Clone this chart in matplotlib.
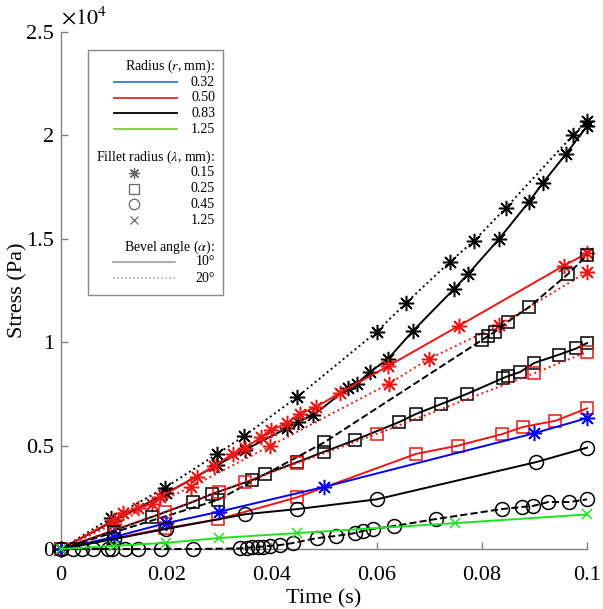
import matplotlib
matplotlib.use('Agg')
import matplotlib.pyplot as plt
from matplotlib.lines import Line2D
from matplotlib.patches import Rectangle
from matplotlib.ticker import FuncFormatter

plt.rcParams['font.family'] = ['Liberation Serif', 'DejaVu Serif']
plt.rcParams['mathtext.fontset'] = 'stix'

# ---------------- data (stress in units of 1e4 Pa) ----------------
# r = 0.83, lambda = 0.15, 20 deg (dotted)
t_k_star_20 = [0, 0.0095, 0.0197, 0.0297, 0.0348, 0.0449, 0.060, 0.0656, 0.074, 0.0785, 0.0846, 0.0973, 0.1]
s_k_star_20 = [0, 0.15, 0.295, 0.46, 0.546, 0.735, 1.05, 1.19, 1.39, 1.49, 1.65, 2.0, 2.07]
# r = 0.83, lambda = 0.15, 10 deg (solid)
t_k_star_10 = [0, 0.01, 0.02, 0.0297, 0.035, 0.043, 0.045, 0.048, 0.0546, 0.0563, 0.0587, 0.0622,
               0.0669, 0.0747, 0.0774, 0.0833, 0.089, 0.0916, 0.096, 0.1]
s_k_star_10 = [0, 0.135, 0.27, 0.406, 0.48, 0.585, 0.614, 0.648, 0.78, 0.80, 0.855, 0.92,
               1.054, 1.257, 1.33, 1.50, 1.68, 1.77, 1.91, 2.045]
# r = 0.50, lambda = 0.15, 10 deg (solid)
t_r_star_10 = [0, 0.01, 0.0118, 0.0146, 0.0173, 0.0188, 0.0258, 0.029, 0.0327, 0.035, 0.038, 0.040,
               0.043, 0.0454, 0.0485, 0.053, 0.0622, 0.0757, 0.0956, 0.1]
s_r_star_10 = [0, 0.14, 0.174, 0.198, 0.217, 0.25, 0.35, 0.40, 0.46, 0.49, 0.54, 0.575,
               0.609, 0.653, 0.687, 0.754, 0.885, 1.08, 1.37, 1.43]
# r = 0.50, lambda = 0.15, 20 deg (dotted)
t_r_star_20 = [0, 0.01, 0.0247, 0.0397, 0.0624, 0.070, 0.0833, 0.1]
s_r_star_20 = [0, 0.12, 0.30, 0.497, 0.80, 0.92, 1.083, 1.34]
# r = 0.83, lambda = 0.25, dashed
t_k_sq_d = [0, 0.01, 0.0298, 0.050, 0.080, 0.0812, 0.0825, 0.085, 0.089, 0.0964, 0.1]
s_k_sq_d = [0, 0.08, 0.237, 0.515, 1.01, 1.03, 1.05, 1.10, 1.17, 1.33, 1.42]
# r = 0.83, lambda = 0.25, 10 deg (solid)
t_k_sq_10 = [0, 0.0173, 0.025, 0.0287, 0.0363, 0.0388, 0.0449, 0.050, 0.0559, 0.0643, 0.0675, 0.0722,
             0.0772, 0.084, 0.085, 0.0873, 0.090, 0.0947, 0.098, 0.1]
s_k_sq_10 = [0, 0.155, 0.227, 0.266, 0.333, 0.362, 0.42, 0.47, 0.527, 0.614, 0.653, 0.70,
             0.75, 0.826, 0.836, 0.856, 0.90, 0.94, 0.97, 0.996]
# r = 0.50, lambda = 0.25, 20 deg (dotted)
t_r_sq_20 = [0, 0.0198, 0.030, 0.035, 0.0449, 0.060, 0.090, 0.1]
s_r_sq_20 = [0, 0.18, 0.277, 0.325, 0.415, 0.556, 0.85, 0.953]
# r = 0.50, lambda = 0.25, 10 deg (solid)
t_r_sq_10 = [0, 0.0198, 0.0298, 0.0449, 0.0675, 0.0755, 0.0838, 0.0878, 0.094, 0.1]
s_r_sq_10 = [0, 0.10, 0.143, 0.25, 0.46, 0.50, 0.555, 0.59, 0.62, 0.68]
# r = 0.32, lambda = 0.15, 10 deg (solid)
t_b_star_10 = [0, 0.01, 0.02, 0.03, 0.05, 0.09, 0.1]
s_b_star_10 = [0, 0.058, 0.125, 0.18, 0.30, 0.56, 0.633]
# r = 0.83, lambda = 0.45, 10 deg (solid)
t_k_ci_10 = [0, 0.01, 0.02, 0.035, 0.0449, 0.060, 0.0903, 0.1]
s_k_ci_10 = [0, 0.048, 0.097, 0.168, 0.193, 0.24, 0.42, 0.49]
# r = 0.83, lambda = 0.45, dashed
t_k_ci_d = [0, 0.0023, 0.004, 0.006, 0.0089, 0.0097, 0.0122, 0.0146, 0.019, 0.025, 0.034, 0.0353,
            0.0363, 0.0375, 0.0384, 0.0397, 0.0416, 0.0441, 0.0487, 0.0523, 0.0559, 0.0574, 0.0593,
            0.0633, 0.0713, 0.0838, 0.0876, 0.0897, 0.0926, 0.0966, 0.1]
s_k_ci_d = [0, 0, 0, 0, 0, 0, 0, 0, 0, 0, 0.003, 0.006,
            0.008, 0.010, 0.012, 0.015, 0.019, 0.029, 0.053, 0.063, 0.077, 0.087, 0.097,
            0.111, 0.145, 0.193, 0.203, 0.208, 0.227, 0.227, 0.24]
# r = 1.25, lambda = 1.25, 10 deg (solid)
t_g_x_10 = [0, 0.01, 0.02, 0.03, 0.0449, 0.0749, 0.1]
s_g_x_10 = [0, 0.015, 0.03, 0.053, 0.077, 0.125, 0.167]

x_ticks = [0, 0.02, 0.04, 0.06, 0.08, 0.1]
y_ticks = [0, 0.5, 1, 1.5, 2, 2.5]

radius_labels = ['0.32', '0.50', '0.83', '1.25']
fillet_labels = ['0.15', '0.25', '0.45', '1.25']
angle_labels = ['10°', '20°']

# ---------------- styles ----------------
BLUE = '#0000F0'
RED = '#EE1515'
BLACK = '#000000'
GREEN = '#22E022'
STAR = (8, 2, 0)

series = [
    (t_k_star_20, s_k_star_20, BLACK, ':', STAR),
    (t_k_star_10, s_k_star_10, BLACK, '-', STAR),
    (t_r_star_20, s_r_star_20, RED, ':', STAR),
    (t_r_star_10, s_r_star_10, RED, '-', STAR),
    (t_k_sq_d, s_k_sq_d, BLACK, '--', 's'),
    (t_k_sq_10, s_k_sq_10, BLACK, '-', 's'),
    (t_r_sq_20, s_r_sq_20, RED, ':', 's'),
    (t_r_sq_10, s_r_sq_10, RED, '-', 's'),
    (t_b_star_10, s_b_star_10, BLUE, '-', STAR),
    (t_k_ci_10, s_k_ci_10, BLACK, '-', 'o'),
    (t_k_ci_d, s_k_ci_d, BLACK, '--', 'o'),
    (t_g_x_10, s_g_x_10, GREEN, '-', 'x'),
]
msize = {'s': 9, 'o': 10, 'x': 7, STAR: 11}

fig = plt.figure(figsize=(6.03, 6.09), dpi=100)
ax = fig.add_axes([61 / 603, 1 - 549 / 609, (587 - 61) / 603, (549 - 32) / 609])

for t, s, c, ls, m in series:
    ax.plot(t, s, color=c, linestyle=ls, linewidth=1.4, marker=m,
            markersize=msize[m], markerfacecolor='none', markeredgecolor=c,
            markeredgewidth=1.1, clip_on=False, zorder=3)

ax.set_xlim(0, 0.1)
ax.set_ylim(0, 2.5)
ax.set_xticks(x_ticks)
ax.set_yticks(y_ticks)
ax.xaxis.set_major_formatter(FuncFormatter(lambda v, p: f'{v:g}'))
ax.yaxis.set_major_formatter(FuncFormatter(lambda v, p: f'{v:g}'))
for sp in ['top', 'right']:
    ax.spines[sp].set_visible(False)
for sp in ['left', 'bottom']:
    ax.spines[sp].set_color('#808080')
    ax.spines[sp].set_linewidth(1.0)
ax.tick_params(direction='in', length=5, width=1.0, color='#808080',
               labelsize=16, labelcolor='black', pad=5)
ax.tick_params(axis='x', pad=12)
ax.set_xlabel('Time (s)', fontsize=16, labelpad=3)
ax.set_ylabel('Stress (Pa)', fontsize=16, labelpad=-1)
ax.text(0.0, 1.005, r'$\times10^{4}$', transform=ax.transAxes, fontsize=16,
        ha='left', va='bottom')

# ---------------- manual legend (figure pixel coords) ----------------
def px(x, y):
    return x / 603, 1 - y / 609

FS = 10
lx0, ly0 = px(88, 295)
lx1, ly1 = px(223, 50)
fig.patches.append(Rectangle((lx0, ly0), lx1 - lx0, ly1 - ly0, transform=fig.transFigure,
                             facecolor='white', edgecolor='#888888', linewidth=1.0, zorder=5))
xr = 215
fig.text(*px(xr, 66), 'Radius ($r$, mm):', ha='right', va='center', fontsize=FS, zorder=6)
leg_cols = ['#3C7CC8', '#E0262A', '#000000', '#80CC44']
for i, (lab, c) in enumerate(zip(radius_labels, leg_cols)):
    y = 82 + i * 15.7
    xa, ya = px(114, y)
    xb, _ = px(177, y)
    fig.add_artist(Line2D([xa, xb], [ya, ya], color=c, lw=1.3, transform=fig.transFigure, zorder=6))
    fig.text(*px(xr, y), lab, ha='right', va='center', fontsize=FS, zorder=6)
fig.text(*px(xr, 157), r'Fillet radius ($\lambda$, mm):', ha='right', va='center', fontsize=FS, zorder=6)
leg_markers = [STAR, 's', 'o', 'x']
leg_msize = [8, 7, 7.5, 5.5]
for i, (lab, m) in enumerate(zip(fillet_labels, leg_markers)):
    y = 173 + i * 15.7
    xa, ya = px(134, y)
    fig.add_artist(Line2D([xa], [ya], marker=m, markersize=leg_msize[i], color='#666666',
                          markerfacecolor='none', markeredgewidth=0.9, linestyle='none',
                          transform=fig.transFigure, zorder=6))
    fig.text(*px(xr, y), lab, ha='right', va='center', fontsize=FS, zorder=6)
fig.text(*px(xr, 247), r'Bevel angle ($\alpha$):', ha='right', va='center', fontsize=FS, zorder=6)
for i, (lab, ls) in enumerate(zip(angle_labels, ['-', ':'])):
    y = 262 + i * 16
    xa, ya = px(113, y)
    xb, _ = px(175, y)
    fig.add_artist(Line2D([xa, xb], [ya, ya], color='#999999', lw=1.1, linestyle=ls,
                          transform=fig.transFigure, zorder=6))
    fig.text(*px(xr, y), lab, ha='right', va='center', fontsize=FS, zorder=6)

fig.savefig('out.png', dpi=100)
